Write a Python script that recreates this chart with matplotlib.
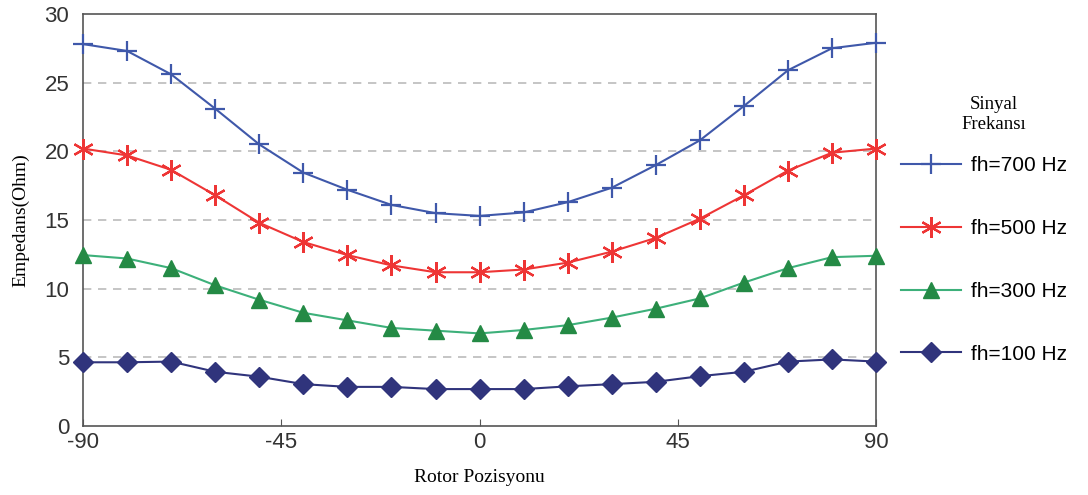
import matplotlib.pyplot as plt

# rotor position (deg) and impedance (Ohm)
angles = [-90, -80, -70, -60, -50, -40, -30, -20, -10, 0, 10, 20, 30, 40, 50, 60, 70, 80, 90]
z_700 = [27.8, 27.3, 25.6, 23.1, 20.5, 18.45, 17.2, 16.1, 15.5, 15.3,
         15.55, 16.3, 17.35, 19.0, 20.8, 23.3, 25.9, 27.5, 27.9]
z_500 = [20.2, 19.7, 18.65, 16.8, 14.8, 13.4, 12.45, 11.7, 11.2, 11.2,
         11.4, 11.9, 12.7, 13.7, 15.1, 16.8, 18.6, 19.9, 20.2]
z_300 = [12.45, 12.2, 11.5, 10.25, 9.2, 8.25, 7.7, 7.15, 6.95, 6.75,
         7.0, 7.35, 7.9, 8.55, 9.3, 10.45, 11.5, 12.3, 12.4]
z_100 = [4.65, 4.65, 4.7, 3.96, 3.6, 3.06, 2.86, 2.86, 2.7, 2.7,
         2.7, 2.9, 3.06, 3.23, 3.64, 3.96, 4.7, 4.86, 4.7]

labels = ["fh=700 Hz", "fh=500 Hz", "fh=300 Hz", "fh=100 Hz"]
xticks = [-90, -45, 0, 45, 90]
yticks = [0, 5, 10, 15, 20, 25, 30]

plt.rcParams['font.family'] = ['Liberation Sans', 'DejaVu Sans']
plt.rcParams['axes.unicode_minus'] = False
serif = ['Liberation Serif', 'DejaVu Serif']

fig = plt.figure(figsize=(10.88, 4.95), dpi=100)
ax = fig.add_axes([0.0763, 0.139, 0.729, 0.833])

common = dict(lw=1.5, zorder=3, clip_on=False)
ax.plot(angles, z_700, color='#3F58AA', marker='+', ms=15, mew=1.6,
        label=labels[0], **common)
ax.plot(angles, z_500, color='#EE3535', marker=(6, 2, 0), ms=15, mew=1.6,
        label=labels[1], **common)
ax.plot(angles, z_300, color='#3DB07A', marker='^', ms=12,
        mfc='#248A45', mec='#248A45', label=labels[2], **common)
ax.plot(angles, z_100, color='#30347C', marker='D', ms=10,
        mfc='#30347C', mec='#30347C', label=labels[3], **common)

ax.set_xlim(-90, 90)
ax.set_ylim(0, 30)
ax.set_xticks(xticks)
ax.set_yticks(yticks)
ax.tick_params(direction='in', length=5, labelsize=16, colors='#555555',
               labelcolor='#333333', pad=4)
ax.tick_params(axis='y', length=0, pad=10)
for s in ax.spines.values():
    s.set_color('#555555')
    s.set_linewidth(1.2)

for y in yticks[1:-1]:
    ax.axhline(y, color='#BBBBBB', lw=1.2, ls=(0, (5, 4)), zorder=1)

ax.set_xlabel("Rotor Pozisyonu", family=serif, fontsize=14, labelpad=12)
ax.set_ylabel("Empedans(Ohm)", family=serif, fontsize=14, labelpad=11)

fig.text(0.913, 0.732, "Sinyal\nFrekansı", family=serif, fontsize=13.5,
         ha='center', va='bottom', multialignment='center')
leg = fig.legend(loc='upper left', bbox_to_anchor=(0.828, 0.684), frameon=False,
                 fontsize=15, labelspacing=2.1, handlelength=2.9,
                 handletextpad=0.45, borderaxespad=0, borderpad=0)

fig.savefig("out.png", dpi=100)
